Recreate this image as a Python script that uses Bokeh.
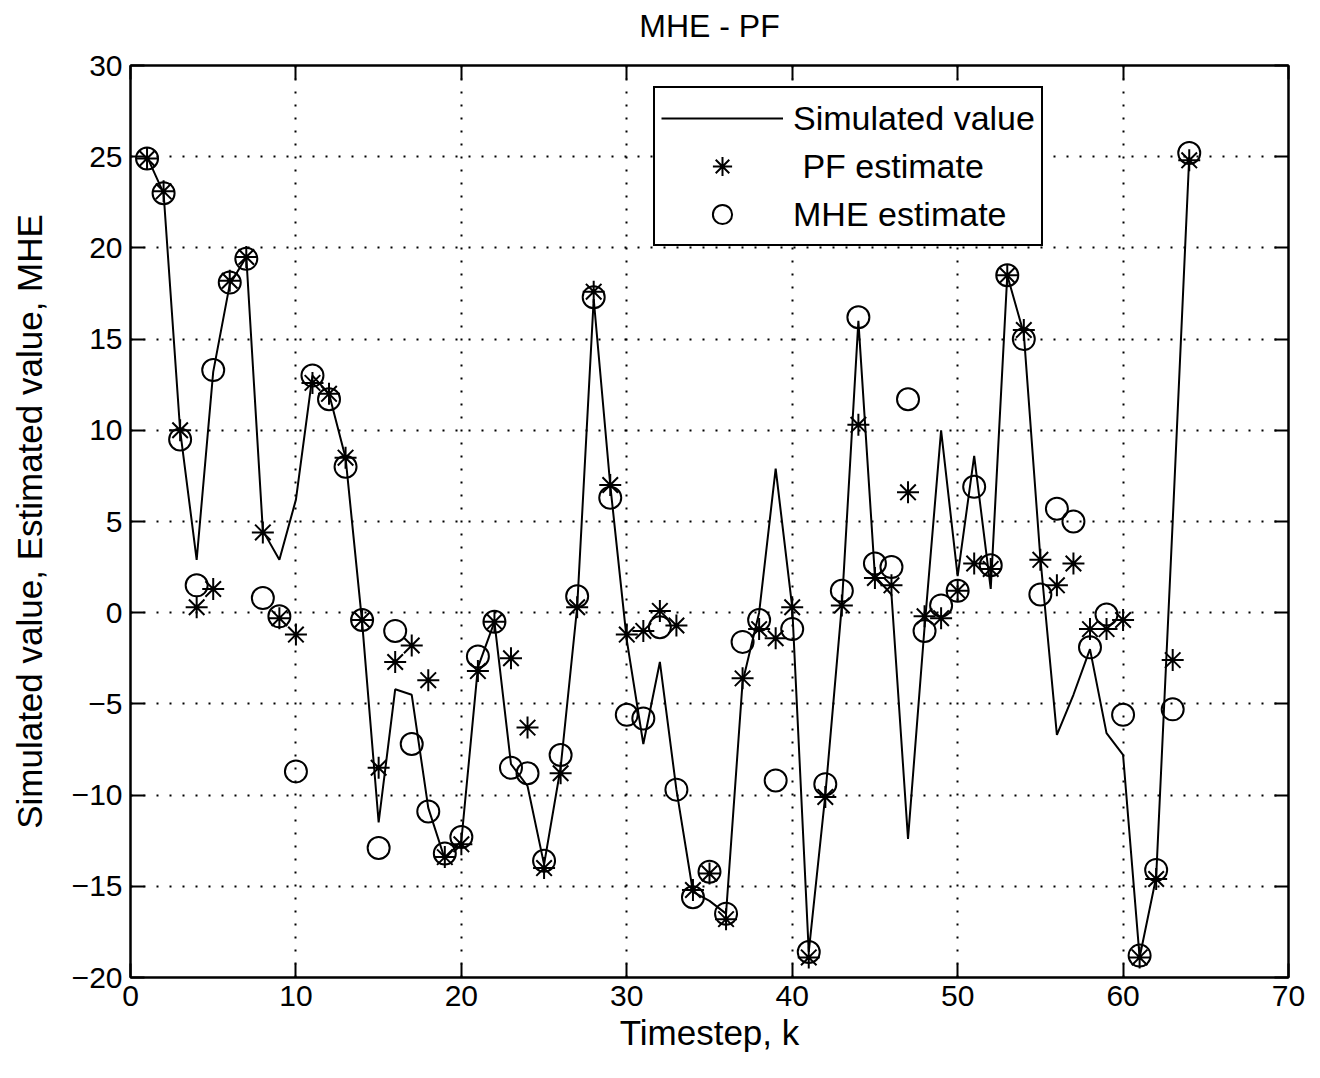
from bokeh.plotting import figure
from bokeh.models import (LinearAxis, Legend, LegendItem, FixedTicker, Range1d,
                          ColumnDataSource)
from bokeh.embed import file_html
from bokeh.resources import INLINE

# ---------------- data ----------------
timestep = list(range(1, 65))

simulated = [25, 23, 10, 2.9, 13.2, 18, 19.5, 4.5, 2.9, 6.2,
             13, 12, 8.5, -0.5, -11.5, -4.2, -4.5, -10.7, -13.5, -12.5,
             -3, -0.5, -8.3, -9.5, -13.8, -8.5, 0.3, 17.2, 7, -1.5,
             -7.2, -2.7, -9.7, -15.3, -15.8, -16.5, -3.8, 0, 7.9, 0.3,
             -18.6, -10, 0.4, 16, 2, 1, -12.4, -0.8, 10, 2,
             8.6, 1.3, 18.5, 15.3, 3, -6.7, -4.5, -2, -6.6, -7.8,
             -18.9, -14.5, 5, 25]

pf_estimate = [24.9, 23.1, 10.0, 0.3, 1.3, 18.2, 19.5, 4.4, -0.3, -1.2,
               12.6, 12.0, 8.5, -0.4, -8.5, -2.7, -1.8, -3.7, -13.4, -12.7,
               -3.2, -0.5, -2.5, -6.3, -14.0, -8.8, 0.3, 17.6, 7.0, -1.2,
               -1.0, 0.1, -0.7, -15.2, -14.3, -16.8, -3.6, -0.9, -1.4, 0.3,
               -18.9, -10.1, 0.4, 10.3, 1.9, 1.5, 6.6, -0.2, -0.3, 1.2,
               2.7, 2.4, 18.5, 15.5, 2.9, 1.5, 2.7, -0.9, -0.9, -0.4,
               -18.9, -14.6, -2.6, 24.8]

mhe_estimate = [24.9, 23.0, 9.5, 1.5, 13.3, 18.1, 19.4, 0.8, -0.2, -8.7,
                13.0, 11.7, 8.0, -0.4, -12.9, -1.0, -7.2, -10.9, -13.2, -12.3,
                -2.4, -0.5, -8.5, -8.8, -13.6, -7.8, 0.9, 17.3, 6.3, -5.6,
                -5.8, -0.8, -9.7, -15.6, -14.2, -16.5, -1.6, -0.4, -9.2, -0.9,
                -18.6, -9.4, 1.2, 16.2, 2.7, 2.5, 11.7, -1.0, 0.4, 1.2,
                6.9, 2.6, 18.5, 15.0, 1.0, 5.7, 5.0, -1.9, -0.1, -5.6,
                -18.8, -14.1, -5.3, 25.2]

x_ticks = [0, 10, 20, 30, 40, 50, 60, 70]
y_ticks = [-20, -15, -10, -5, 0, 5, 10, 15, 20, 25, 30]

title_text = "MHE - PF"
x_label = "Timestep, k"
y_label = "Simulated value, Estimated value, MHE"
legend_labels = ["Simulated value", " PF estimate", "MHE estimate"]

FONT = "Liberation Sans"

src = ColumnDataSource(dict(k=timestep, sim=simulated, pf=pf_estimate, mhe=mhe_estimate))

p = figure(width=1320, height=1078, x_range=Range1d(0, 70), y_range=Range1d(-20, 30),
           output_backend="svg", toolbar_location=None, title_location=None,
           min_border_left=130, min_border_right=32, min_border_top=65, min_border_bottom=101,
           background_fill_color="white", border_fill_color="white")

p.outline_line_color = "black"
p.outline_line_width = 2

# axes
for ax, ticks in ((p.xaxis[0], x_ticks), (p.yaxis[0], y_ticks)):
    ax.ticker = FixedTicker(ticks=ticks)
    ax.major_tick_in = 14
    ax.major_tick_out = 0
    ax.minor_tick_line_color = None
    ax.axis_line_width = 2
    ax.axis_line_color = "black"
    ax.major_tick_line_width = 2
    ax.major_tick_line_color = "black"
    ax.major_label_text_font = FONT
    ax.major_label_text_font_size = "30px"
    ax.major_label_text_color = "black"
    ax.axis_label_text_font = FONT
    ax.axis_label_text_font_size = "35px"
    ax.axis_label_text_font_style = "normal"
    ax.axis_label_text_color = "black"

p.xaxis.axis_label = x_label
p.yaxis.axis_label = y_label
p.xaxis.major_label_standoff = 8
p.yaxis.major_label_standoff = 8
p.xaxis.axis_label_standoff = 4
p.yaxis.axis_label_standoff = 20

right_ax = LinearAxis(ticker=FixedTicker(ticks=y_ticks),
                      major_label_overrides={t: "" for t in y_ticks},
                      major_label_text_font_size="12px",
                      major_tick_in=14, major_tick_out=0, minor_tick_line_color=None,
                      axis_line_width=2, major_tick_line_width=2, major_label_standoff=0)
p.add_layout(right_ax, "right")

# top axis carries the chart title as its label
top_ax = LinearAxis(ticker=FixedTicker(ticks=x_ticks),
                    major_label_overrides={t: "" for t in x_ticks},
                    major_label_text_font_size="12px",
                    major_tick_in=14, major_tick_out=0, minor_tick_line_color=None,
                    axis_line_width=2, major_tick_line_width=2, major_label_standoff=0,
                    axis_label=title_text, axis_label_text_font=FONT,
                    axis_label_text_font_size="32px", axis_label_text_font_style="normal",
                    axis_label_text_color="black", axis_label_standoff=22)
p.add_layout(top_ax, "above")

# grid
for g, ticks in ((p.xgrid[0], x_ticks), (p.ygrid[0], y_ticks)):
    g.ticker = FixedTicker(ticks=ticks)
    g.grid_line_color = "black"
    g.grid_line_width = 2
    g.grid_line_dash = "2 11"

# data
r_line = p.line("k", "sim", source=src, line_color="black", line_width=2)
r_pf = p.scatter("k", "pf", source=src, marker="asterisk", size=22,
                 line_color="black", line_width=2)
r_mhe = p.scatter("k", "mhe", source=src, marker="circle", size=22,
                  line_color="black", fill_color=None, line_width=2)

legend = Legend(items=[LegendItem(label=legend_labels[0], renderers=[r_line]),
                       LegendItem(label=legend_labels[1], renderers=[r_pf]),
                       LegendItem(label=legend_labels[2], renderers=[r_mhe])],
                location=(523, 731), border_line_color="black", border_line_width=2,
                border_line_alpha=1.0,
                background_fill_color="white", background_fill_alpha=1.0,
                label_text_font=FONT, label_text_font_size="34px",
                label_text_color="black",
                glyph_width=122, glyph_height=48, label_height=40, spacing=0,
                padding=6, label_standoff=10, margin=0)
p.add_layout(legend)

open("out.html", "w").write(file_html(p, INLINE))
